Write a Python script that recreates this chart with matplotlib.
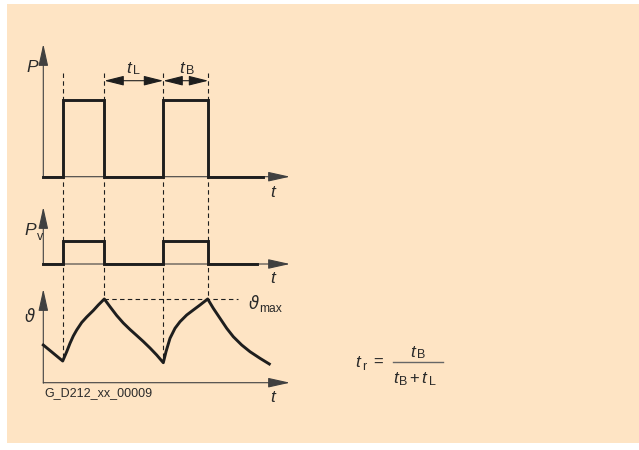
import matplotlib
matplotlib.use("Agg")
import matplotlib.pyplot as plt
import matplotlib.patches as mpatches

# Diagram data (drawing units, y grows downwards)
switch_t = [62.5, 104.3, 163.3, 208.3]          # on/off instants of the duty cycle
p_low, p_high = 176.7, 100.0                    # power P levels
pv_low, pv_high = 264.0, 240.7                  # loss power Pv levels
t_end_p, t_end_pv = 263.0, 257.0

# temperature curve
theta_t = [43.3, 62.7, 66.7, 70.0, 73.3, 76.7, 81.7, 86.7, 93.3, 98.3, 104.3,
           110.0, 116.7, 123.3, 130.0, 136.7, 143.3, 150.0, 156.7, 163.3,
           166.0, 170.0, 175.0, 180.0, 186.7, 193.3, 200.0, 207.7,
           213.3, 220.0, 226.7, 233.3, 241.7, 250.0, 260.0, 269.3]
theta_v = [345.0, 361.0, 351.7, 343.3, 336.0, 330.0, 322.5, 317.0, 310.5, 305.0, 299.0,
           306.7, 315.5, 323.0, 329.5, 335.5, 341.5, 348.0, 355.0, 362.7,
           351.7, 338.3, 328.3, 321.7, 315.0, 310.0, 305.0, 299.0,
           308.3, 318.3, 328.3, 336.7, 345.0, 351.7, 358.3, 364.0]
theta_max = 299.0
theta_low = [361.0, 299.0, 362.7, 299.0]        # where the guides meet the curve

BG = '#FEE4C4'
INK = '#1e1e1e'
AX = '#404040'
TXT = '#2a2a2a'
FONT = 'Liberation Sans'

fig = plt.figure(figsize=(6.39, 4.5), dpi=100)
fig.patch.set_facecolor('white')
ax = fig.add_axes([0, 0, 1, 1])
ax.set_xlim(0, 639)
ax.set_ylim(450, 0)
ax.axis('off')

ax.add_patch(mpatches.Rectangle((7, 4), 632, 439, facecolor=BG, edgecolor='none', zorder=0))

x0 = 43.3
x_tip = 290
head = '-|>,head_length=1.35,head_width=0.3'


def axis_arrows(y_base, y_top):
    ax.annotate('', xy=(x_tip, y_base), xytext=(x0, y_base),
                arrowprops=dict(arrowstyle=head, mutation_scale=10, color=AX, lw=0.8,
                                shrinkA=0, shrinkB=0), zorder=2)
    ax.annotate('', xy=(x0, y_top), xytext=(x0, y_base + 0.5),
                arrowprops=dict(arrowstyle=head, mutation_scale=10, color=AX, lw=0.8,
                                shrinkA=0, shrinkB=0), zorder=2)


axis_arrows(p_low, 44)
axis_arrows(pv_low, 207)
axis_arrows(382.7, 289)


def pulse_xy(low, high, t_end):
    xs = [x0]
    ys = [low]
    for i in range(0, len(switch_t), 2):
        a, b = switch_t[i], switch_t[i + 1]
        xs += [a, a, b, b]
        ys += [low, high, high, low]
    xs.append(t_end)
    ys.append(low)
    return xs, ys


xs, ys = pulse_xy(p_low, p_high, t_end_p)
ax.plot(xs, ys, color=INK, lw=2.1, solid_joinstyle='miter', zorder=3)
xs, ys = pulse_xy(pv_low, pv_high, t_end_pv)
ax.plot(xs, ys, color=INK, lw=2.1, solid_joinstyle='miter', zorder=3)
ax.plot(theta_t, theta_v, color=INK, lw=2.1, solid_joinstyle='round', zorder=3)

# dashed guides
dash = dict(color=INK, lw=0.8, ls=(0, (4, 3)), zorder=1)
for t, yb in zip(switch_t, theta_low):
    ax.plot([t, t], [73, yb], **dash)
ax.plot([switch_t[1], 238], [theta_max, theta_max], **dash)

# tL / tB dimension arrows
y_dim = 80.7
for a, b in [(switch_t[1], switch_t[2]), (switch_t[2], switch_t[3])]:
    ax.annotate('', xy=(b, y_dim), xytext=(a, y_dim),
                arrowprops=dict(arrowstyle='<|-|>,head_length=1.2,head_width=0.3',
                                mutation_scale=10, color=INK, lw=0.8, shrinkA=0, shrinkB=0))

FS = 12.5
SUB = 9


def sym(x, y, main, sub=None, dx=6.5, dy=1.5, fs=FS, sfs=SUB, fam=FONT):
    ax.text(x, y, main, fontsize=fs, color=TXT, ha='left', va='baseline',
            family=fam, style='italic')
    if sub:
        ax.text(x + dx, y + dy, sub, fontsize=sfs, color=TXT, ha='left', va='baseline',
                family=FONT)


sym(126.5, 73, 't', 'L', dx=7)
sym(179.5, 73, 't', 'B', dx=6.5)

sym(26, 71.7, 'P')
sym(24.5, 235, 'P', 'v', dx=12.5, dy=5)
sym(24.5, 322, 'ϑ', fam=['DejaVu Sans'], fs=12)
sym(249, 309, 'ϑ', 'max', dx=10, dy=3, fam=['DejaVu Sans'], fs=12, sfs=8.7)
for yl in [196.7, 283.3, 401.7]:
    sym(270.5, yl, 't')

ax.text(44.5, 396, 'G_D212_xx_00009', fontsize=9, color=TXT, ha='left', va='baseline',
        family=FONT)

# formula
sym(355, 366.7, 't', 'r', dx=7, dy=3)
ax.text(378.5, 366.5, '=', fontsize=12, color=TXT, ha='center', va='baseline', family=FONT)
ax.plot([393, 443], [362, 362], color='#666666', lw=1.0)
sym(410, 356.7, 't', 'B', dx=6.5)
sym(393, 383.3, 't', 'B', dx=6.5)
ax.text(414.5, 383.3, '+', fontsize=12, color=TXT, ha='center', va='baseline', family=FONT)
sym(421.5, 383.3, 't', 'L', dx=7)

fig.savefig('out.png', dpi=100, facecolor='white')
